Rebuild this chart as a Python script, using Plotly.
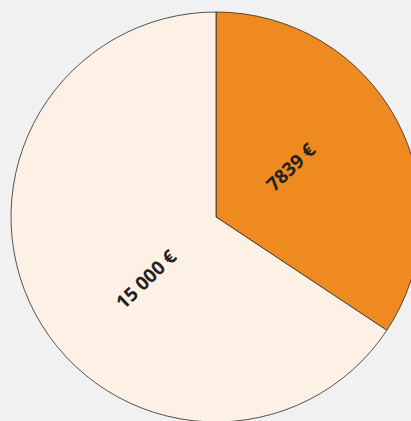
import plotly.graph_objects as go

# --- data ---
categories = ["Part A", "Part B"]
values = [7839, 15000]
colors = ["#EE8A1F", "#FDF0E4"]


def fmt(v):
    s = str(v)
    if v >= 10000:
        s = f"{v:,}".replace(",", " ")
    return s + " €"


labels_text = [fmt(v) for v in values]

fig = go.Figure()
fig.add_trace(go.Pie(
    labels=categories,
    values=values,
    sort=False,
    direction="clockwise",
    rotation=0,
    marker=dict(colors=colors, line=dict(color="#2b2b2b", width=0.8)),
    textinfo="none",
    hoverinfo="label+value",
    showlegend=False,
    domain=dict(x=[0, 1], y=[0, 1]),
))

# label placement (paper coords), rotated text as in reference
label_pos = [(0.682, 0.622), (0.329, 0.350)]
for (px, py), t in zip(label_pos, labels_text):
    fig.add_annotation(
        x=px, y=py, xref="paper", yref="paper",
        text=f"<b>{t}</b>", showarrow=False, textangle=-44,
        font=dict(family="Open Sans", size=19, color="#222222"),
        xanchor="center", yanchor="middle",
    )

fig.update_layout(
    width=421, height=422,
    margin=dict(l=11, r=0, t=12, b=0),
    paper_bgcolor="#f1f1f1",
    plot_bgcolor="#f1f1f1",
)

page_style = (
    "document.documentElement.style.overflow='hidden';"
    "document.body.style.margin='0';"
    "document.body.style.overflow='hidden';"
    "document.body.style.background='#f1f1f1';"
)

fig.write_html("out.html", post_script=page_style,
               config={"displayModeBar": False})
